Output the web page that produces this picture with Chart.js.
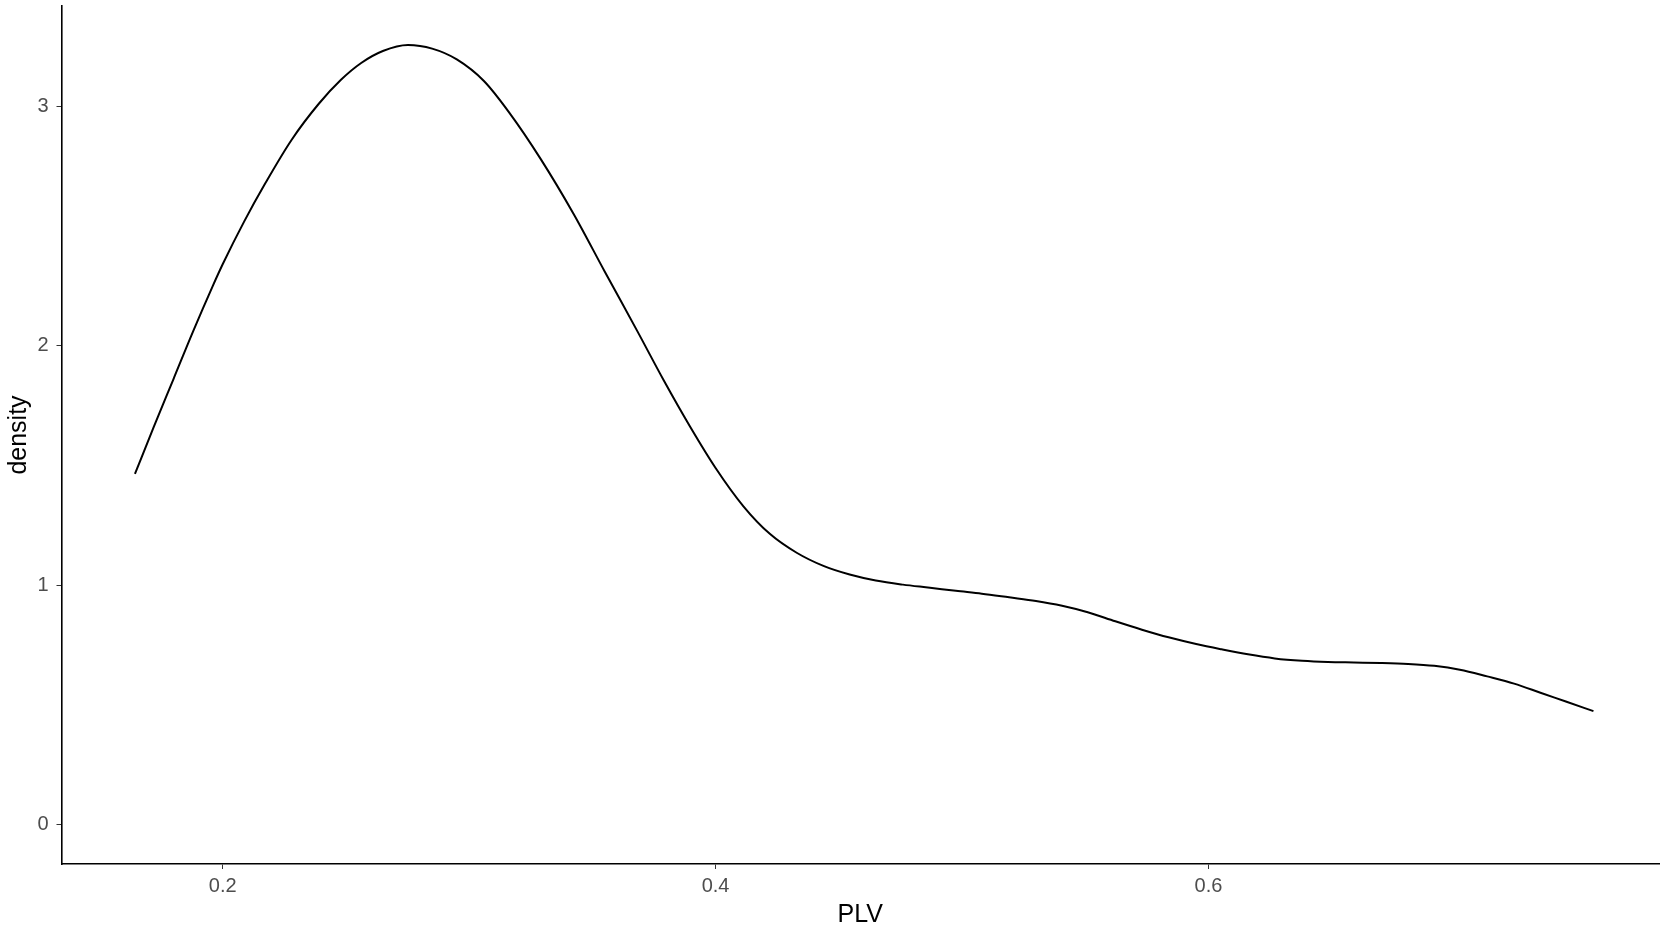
<!DOCTYPE html>
<html>
<head>
<meta charset="utf-8">
<script src="https://cdn.jsdelivr.net/npm/chart.js@4.4.1/dist/chart.umd.min.js"></script>
<style>
  html, body { margin: 0; padding: 0; background: #ffffff; }
  #wrap { width: 1665px; height: 931px; position: relative; }
</style>
</head>
<body>
<div id="wrap"><canvas id="c" width="1665" height="931"></canvas></div>
<script>
// Density curve
const plvValues = [0.1644, 0.1720, 0.1800, 0.1880, 0.1960, 0.2000, 0.2088, 0.2174, 0.2280, 0.2390, 0.2480, 0.2562, 0.2650, 0.2752, 0.2850, 0.2950, 0.3060, 0.3165, 0.3290, 0.3424, 0.3550, 0.3683, 0.3790, 0.3898, 0.4000, 0.4113, 0.4220, 0.4329, 0.4440, 0.4544, 0.4650, 0.4760, 0.4870, 0.4975, 0.5080, 0.5191, 0.5300, 0.5406, 0.5510, 0.5622, 0.5730, 0.5838, 0.5950, 0.6053, 0.6160, 0.6269, 0.6380, 0.6484, 0.6590, 0.6700, 0.6810, 0.6916, 0.7020, 0.7131, 0.7240, 0.7347, 0.7450, 0.7562];
const densityValues = [1.465, 1.660, 1.860, 2.060, 2.250, 2.340, 2.520, 2.680, 2.860, 3.010, 3.110, 3.180, 3.230, 3.255, 3.240, 3.195, 3.105, 2.970, 2.780, 2.550, 2.310, 2.060, 1.855, 1.660, 1.490, 1.330, 1.215, 1.136, 1.080, 1.045, 1.020, 1.003, 0.990, 0.977, 0.965, 0.950, 0.935, 0.915, 0.888, 0.850, 0.815, 0.783, 0.755, 0.733, 0.712, 0.695, 0.685, 0.680, 0.678, 0.676, 0.672, 0.664, 0.648, 0.620, 0.590, 0.552, 0.515, 0.475];
const xTicks = [0.2, 0.4, 0.6];
const yTicks = [0, 1, 2, 3];
const xTitle = 'PLV';
const yTitle = 'density';

const points = plvValues.map((x, i) => ({ x: x, y: densityValues[i] }));

new Chart(document.getElementById('c'), {
  type: 'line',
  data: {
    datasets: [{
      data: points,
      borderColor: '#000000',
      borderWidth: 2,
      pointRadius: 0,
      fill: false,
      cubicInterpolationMode: 'monotone'
    }]
  },
  options: {
    responsive: false,
    animation: false,
    devicePixelRatio: 1,
    layout: { padding: { top: 6, right: 6, left: 0, bottom: 0 } },
    plugins: { legend: { display: false }, tooltip: { enabled: false } },
    scales: {
      x: {
        type: 'linear',
        min: 0.1346,
        max: 0.7828,
        afterBuildTicks: s => { s.ticks = xTicks.map(v => ({ value: v })); },
        afterFit: s => { s.height = 67; s.paddingLeft = 0; s.paddingRight = 0; },
        grid: { display: true, drawOnChartArea: false, drawTicks: true, tickLength: 5, color: '#333333', lineWidth: 1 },
        border: { display: true, color: '#000000', width: 1.6 },
        ticks: { color: '#4D4D4D', font: { family: 'Liberation Sans, Arial, sans-serif', size: 20 }, padding: 5, maxRotation: 0,
                 callback: v => v.toFixed(1) },
        title: { display: true, text: xTitle, color: '#000000', font: { family: 'Liberation Sans, Arial, sans-serif', size: 25 }, padding: { top: 0, bottom: 1 } }
      },
      y: {
        type: 'linear',
        min: -0.163,
        max: 3.418,
        afterBuildTicks: s => { s.ticks = yTicks.map(v => ({ value: v })); },
        afterFit: s => { s.width = 61.5; s.paddingTop = 0; s.paddingBottom = 0; },
        grid: { display: true, drawOnChartArea: false, drawTicks: true, tickLength: 5, color: '#333333', lineWidth: 1 },
        border: { display: true, color: '#000000', width: 1.6 },
        ticks: { color: '#4D4D4D', font: { family: 'Liberation Sans, Arial, sans-serif', size: 20 }, padding: 8,
                 callback: v => String(v) },
        title: { display: true, text: yTitle, color: '#000000', font: { family: 'Liberation Sans, Arial, sans-serif', size: 25 }, padding: { top: 4, bottom: 0 } }
      }
    }
  }
});
</script>
</body>
</html>
